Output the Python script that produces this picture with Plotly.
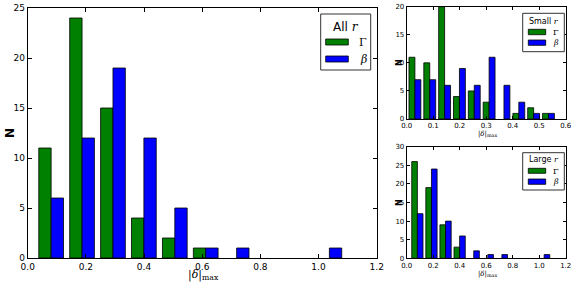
import plotly.graph_objects as go

# ---------------- data ----------------
main_bins = [0.0806, 0.1869, 0.2932, 0.3995, 0.5058, 0.6121, 0.7184, 0.8247, 0.9310, 1.0373]
main_gamma = [11, 24, 15, 4, 2, 1, 0, 0, 0, 0]
main_beta = [6, 12, 19, 12, 5, 1, 1, 0, 0, 1]

small_bins = [0.031, 0.087, 0.143, 0.199, 0.255, 0.311, 0.367, 0.423, 0.479, 0.535]
small_gamma = [11, 10, 20, 4, 5, 3, 0, 1, 2, 1]
small_beta = [7, 7, 6, 9, 6, 11, 6, 3, 1, 1]

large_bins = main_bins
large_gamma = [26, 19, 9, 3, 0, 0, 0, 0, 0, 0]
large_beta = [12, 24, 10, 6, 2, 1, 1, 0, 0, 1]

main_bw = 0.1063
small_bw = 0.056

GREEN = "#008000"
BLUE = "#0000ff"
W, H = 576, 288


def px(x):
    return x / W


def py(y):
    return 1 - y / H


def nz(v):
    return [c if c else None for c in v]


fig = go.Figure()


def add_pair(bins, g, b, bw, xa, ya):
    fig.add_trace(go.Bar(x=bins, y=nz(g), width=0.4 * bw, offset=-0.4 * bw,
                         marker=dict(color=GREEN, line=dict(color="black", width=0.8)),
                         xaxis=xa, yaxis=ya, showlegend=False))
    fig.add_trace(go.Bar(x=bins, y=nz(b), width=0.4 * bw, offset=0,
                         marker=dict(color=BLUE, line=dict(color="black", width=0.8)),
                         xaxis=xa, yaxis=ya, showlegend=False))


add_pair(main_bins, main_gamma, main_beta, main_bw, "x", "y")
add_pair(small_bins, small_gamma, small_beta, small_bw, "x2", "y2")
add_pair(large_bins, large_gamma, large_beta, main_bw, "x3", "y3")

tickfont_main = dict(family="DejaVu Sans", size=9, color="black")
tickfont_small = dict(family="DejaVu Sans", size=7, color="black")


def xaxis(dom, rng, dtick, anchor, font, tl):
    return dict(domain=dom, range=rng, dtick=dtick, tick0=0, anchor=anchor,
                showline=True, linecolor="black", linewidth=1, mirror="allticks",
                ticks="inside", ticklen=tl, tickcolor="black", tickformat=".1f",
                showgrid=False, zeroline=False, tickfont=font, ticklabelstandoff=0)


def yaxis(dom, rng, dtick, anchor, font, tl):
    return dict(domain=dom, range=rng, dtick=dtick, tick0=0, anchor=anchor,
                showline=True, linecolor="black", linewidth=1, mirror="allticks",
                ticks="inside", ticklen=tl, tickcolor="black",
                showgrid=False, zeroline=False, tickfont=font, ticklabelstandoff=0)


fig.update_layout(
    width=W, height=H, margin=dict(l=0, r=0, t=0, b=0, autoexpand=False),
    paper_bgcolor="white", plot_bgcolor="white", barmode="overlay",
    xaxis=xaxis([px(27.7), px(376.7)], [0, 1.2], 0.2, "y", tickfont_main, 4),
    yaxis=yaxis([py(258), py(8)], [0, 25], 5, "x", tickfont_main, 4),
    xaxis2=xaxis([px(406.7), px(565.7)], [0, 0.6], 0.1, "y2", tickfont_small, 3),
    yaxis2=yaxis([py(119), py(6.7)], [0, 20], 5, "x2", tickfont_small, 3),
    xaxis3=xaxis([px(406.7), px(565.7)], [0, 1.2], 0.2, "y3", tickfont_small, 3),
    yaxis3=yaxis([py(258.3), py(146.7)], [0, 30], 5, "x3", tickfont_small, 3),
)

shapes = []
annotations = []


def text(x, y, s, size, family="DejaVu Sans", angle=0):
    annotations.append(dict(x=px(x), y=py(y), xref="paper", yref="paper", text=s,
                            showarrow=False, xanchor="center", yanchor="middle",
                            textangle=angle,
                            font=dict(family=family, size=size, color="black")))


def rect(x0, y0, x1, y1, fill, lw=1, lc="black"):
    shapes.append(dict(type="rect", xref="paper", yref="paper",
                       x0=px(x0), x1=px(x1), y0=py(y1), y1=py(y0),
                       fillcolor=fill, line=dict(color=lc, width=lw)))


R = "<i><span style='font-family:DejaVu Serif'>r</span></i>"

# axis labels
xlab = "|<i>δ</i>|<sub>max</sub>"
text(203, 275, xlab, 11, "DejaVu Serif")
text(10, 133, "<b>N</b>", 12, "DejaVu Sans", -90)
text(487, 134, xlab, 7, "DejaVu Serif")
text(487, 274, xlab, 7, "DejaVu Serif")
text(399, 63, "<b>N</b>", 8, "DejaVu Sans", -90)
text(399, 203, "<b>N</b>", 8, "DejaVu Sans", -90)

# main legend
rect(320.7, 14, 370.7, 70, "white", 1, "#333")
text(345.5, 27, "All " + R, 12)
rect(325.7, 39, 348.3, 45, GREEN, 0.8)
rect(325.7, 56, 348.3, 62, BLUE, 0.8)
text(363, 42, "Γ", 11, "DejaVu Serif")
text(363, 59, "<i>β</i>", 11, "DejaVu Serif")

# small legend
rect(522.7, 13.3, 564.3, 51.7, "white", 1, "#333")
text(543.5, 21.5, "Small " + R, 8)
rect(528.3, 29.3, 545.7, 34.7, GREEN, 0.8)
rect(528.3, 40, 545.7, 45.3, BLUE, 0.8)
text(556, 32, "Γ", 8, "DejaVu Serif")
text(556, 42.7, "<i>β</i>", 8, "DejaVu Serif")

# large legend
rect(522.7, 152.7, 564.3, 190, "white", 1, "#333")
text(543.5, 159.5, "Large " + R, 8)
rect(528.3, 168.3, 545.7, 173.3, GREEN, 0.8)
rect(528.3, 179, 545.7, 184.3, BLUE, 0.8)
text(556, 171, "Γ", 8, "DejaVu Serif")
text(556, 181.7, "<i>β</i>", 8, "DejaVu Serif")

fig.update_layout(shapes=shapes, annotations=annotations)
fig.write_html(
    "out.html",
    config={"displayModeBar": False},
    post_script="document.body.style.margin='0';document.body.style.overflow='hidden';",
)
